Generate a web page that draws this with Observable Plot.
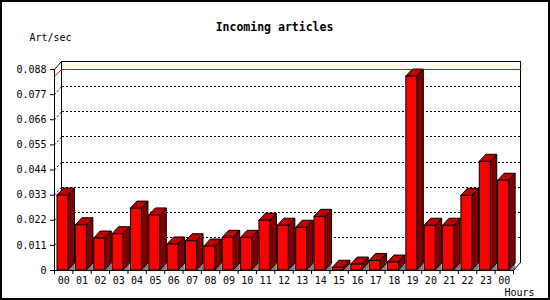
<!DOCTYPE html>
<html>
<head>
<meta charset="utf-8">
<script src="https://cdn.jsdelivr.net/npm/d3@7"></script>
<script src="https://cdn.jsdelivr.net/npm/@observablehq/plot@0.6"></script>
<style>
  html, body { margin: 0; padding: 0; background: white; }
  #chart svg { display: block; outline: 2px solid black; outline-offset: -2px; }
</style>
</head>
<body>
<div id="chart"></div>
<script>
const title = "Incoming articles";
const yLabel = "Art/sec";
const xLabel = "Hours";
const hours = ["00","01","02","03","04","05","06","07","08","09","10","11","12",
               "13","14","15","16","17","18","19","20","21","22","23","00"];
const rate = [0.0328, 0.0198, 0.0140, 0.0159, 0.0271, 0.0241, 0.0114, 0.0128, 0.0105,
              0.0143, 0.0143, 0.0218, 0.0196, 0.0187, 0.0235, 0.0012, 0.0026, 0.0042,
              0.0035, 0.0849, 0.0196, 0.0196, 0.0327, 0.0476, 0.0393];
const yTicks = [0, 0.011, 0.022, 0.033, 0.044, 0.055, 0.066, 0.077, 0.088];

const W = 550, H = 300, ML = 54, MR = 37, MT = 69, MB = 30;
const n = rate.length;
const yMax = yTicks[yTicks.length - 1];
const pxX = (W - ML - MR) / n;
const pxY = (H - MT - MB) / yMax;
// 3D depth, converted from pixels to data units
const D = 7 / pxX, DV = 8 / pxY;       // back plane offset
const bd = 6.5 / pxX, bdv = 7 / pxY;   // bar depth
const f0 = 3 / pxX, f1 = 14 / pxX;     // front face within slot

const bars = rate.map((v, i) => ({i, v, x0: i + f0, x1: i + f1}));
const sideFaces = bars.flatMap(b => [
  {i: b.i, x: b.x1, lo: 0, hi: b.v},
  {i: b.i, x: b.x1 + bd, lo: bdv, hi: b.v + bdv}
]);
const topFaces = bars.flatMap(b => [
  {i: b.i, y: b.v, xa: b.x0, xb: b.x1},
  {i: b.i, y: b.v + bdv, xa: b.x0 + bd, xb: b.x1 + bd}
]);
const floorShadows = bars.flatMap(b => [
  {i: b.i, x: b.x1, lo: 0, hi: 0},
  {i: b.i, x: b.x1 + bd, lo: 0, hi: bdv}
]);
const backFrame = [
  {x: D, y: DV}, {x: D, y: yMax + DV}, {x: n + D, y: yMax + DV}, {x: n + D, y: DV}
];
const grid = yTicks.filter(t => t > 0 && t < yMax);
const maxV = d3.max(rate);
const boundaries = d3.range(n + 1);

const plot = Plot.plot({
  width: W, height: H,
  marginLeft: ML, marginRight: MR, marginTop: MT, marginBottom: MB,
  style: {fontFamily: "'DejaVu Sans Mono', monospace", fontSize: "10px", background: "white", color: "black", overflow: "visible"},
  x: {domain: [0, n]},
  y: {domain: [0, yMax]},
  marks: [
    // back plane
    Plot.line(backFrame, {x: "x", y: "y", stroke: "black", shapeRendering: "crispEdges"}),
    Plot.link([yMax], {x1: 0, y1: d => d, x2: D, y2: d => d + DV, stroke: "black"}),
    // dotted grid
    Plot.link(grid, {x1: 0, y1: d => d, x2: D, y2: d => d + DV, stroke: "black", strokeDasharray: "2,2"}),
    Plot.link(grid, {x1: D, y1: d => d + DV, x2: n + D, y2: d => d + DV, stroke: "black",
                     strokeDasharray: "2,2", shapeRendering: "crispEdges"}),
    // max line
    Plot.link([maxV], {x1: 0, y1: d => d, x2: D, y2: d => d + bdv, stroke: "red"}),
    Plot.link([maxV], {x1: D, y1: d => d + bdv, x2: n + D, y2: d => d + bdv, stroke: "red", shapeRendering: "crispEdges"}),
    // floor shadows
    Plot.area(floorShadows, {x1: "x", y1: "lo", x2: "x", y2: "hi", z: "i", fill: "#808080"}),
    Plot.link([0], {x1: n, y1: d => d, x2: n + D, y2: d => d + DV, stroke: "black"}),
    // bars
    Plot.area(sideFaces, {x1: "x", y1: "lo", x2: "x", y2: "hi", z: "i", fill: "#800000", stroke: "black", strokeWidth: 1}),
    Plot.area(topFaces, {x1: "xa", y1: "y", x2: "xb", y2: "y", z: "i", fill: "#c00000", stroke: "black", strokeWidth: 1}),
    Plot.rect(bars, {x1: "x0", x2: "x1", y1: 0, y2: "v", fill: "#ff0000", stroke: "black", strokeWidth: 1}),
    // front axes
    Plot.ruleX([0], {stroke: "black"}),
    Plot.ruleY([0], {stroke: "black"}),
    Plot.axisY({ticks: yTicks, tickSize: 4, tickPadding: 4, label: null,
                tickFormat: d => d === 0 ? "0" : d3.format(".3f")(d), fontSize: 10}),
    Plot.axisX({ticks: boundaries, tickSize: 4, label: null, tickFormat: () => ""}),
    Plot.text(hours, {x: (d, i) => i + 0.5, y: 0, dy: 10, text: d => d, fontSize: 10, lineAnchor: "middle"}),
    // titles
    Plot.text([title], {frameAnchor: "top-left", dx: 220, dy: -42, textAnchor: "middle", lineAnchor: "middle",
                        fontWeight: "bold", fontSize: 11.5}),
    Plot.text([yLabel], {frameAnchor: "top-left", dx: -25, dy: -32, textAnchor: "start", lineAnchor: "middle", fontSize: 10}),
    Plot.text([xLabel], {frameAnchor: "bottom-right", dx: 21, dy: 22, textAnchor: "end", lineAnchor: "middle", fontSize: 10})
  ]
});
document.getElementById("chart").appendChild(plot);
</script>
</body>
</html>
